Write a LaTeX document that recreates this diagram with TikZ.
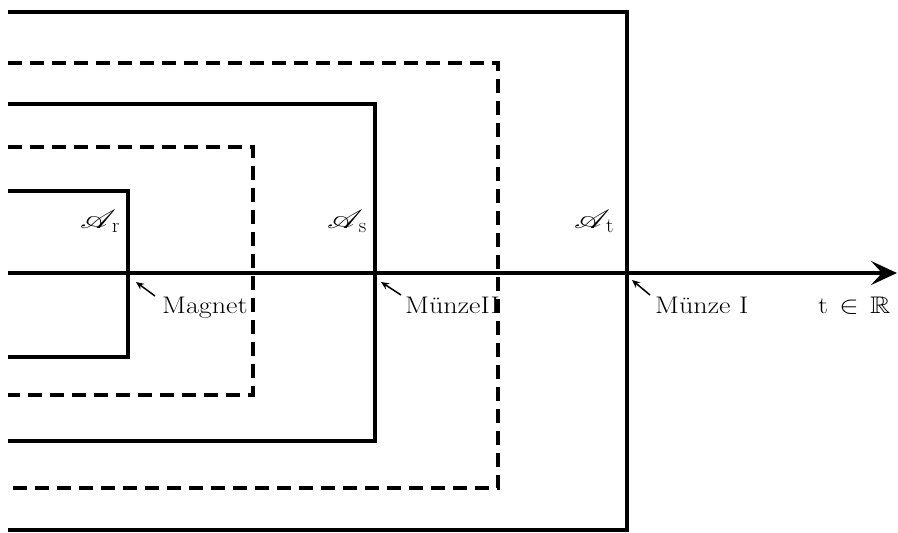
\documentclass[tikz,border=0pt]{standalone}
\usepackage{amssymb}
\usepackage{mathrsfs}
\usetikzlibrary{arrows.meta}
\newcommand{\wide}[1]{\scalebox{1.17}[1]{#1}}
\newcommand{\alga}[1]{\scalebox{1.4}[1.05]{$\mathscr{A}$}\kern-4pt$_{\mathrm{#1}}$}
\begin{document}
\begin{tikzpicture}[x=1pt,y=-1pt,
  frame/.style={line width=3.5pt, line join=miter},
  dframe/.style={frame, dash pattern=on 14pt off 8pt},
  lbl/.style={inner sep=0pt, anchor=base west, font=\fontsize{24}{28}\selectfont},
  alg/.style={inner sep=0pt, font=\fontsize{28}{32}\selectfont},
  pointer/.style={line width=1.5pt, -{Stealth[length=8pt,width=7pt]}}]
\useasboundingbox (0,0) rectangle (898,533);
% nested time regions, innermost first
\draw[frame]  (8,191) -- (128,191) -- (128,357) -- (8,357);
\draw[dframe] (8,147) -- (253,147) -- (253,395) -- (8,395);
\draw[frame]  (8,104) -- (375,104) -- (375,441) -- (8,441);
\draw[dframe] (8,63)  -- (498,63)  -- (498,488) -- (8,488);
\draw[frame]  (8,12)  -- (627,12)  -- (627,530) -- (8,530);
% time axis
\coordinate (axstart) at (8,273);
\coordinate (axend) at (897,273);
\draw[line width=4.5pt, -{Stealth[length=26pt,width=24pt,inset=11pt]}] (axstart) -- (axend);
\coordinate (pr) at (136,282);
\coordinate (ps) at (381,282);
\coordinate (pt) at (632,280);
% algebra labels
\node[alg] (ar) at (100,221) {\alga{r}};
\node[alg] (as) at (347,221) {\alga{s}};
\node[alg] (at) at (594,221) {\alga{t}};
% event labels
\node[lbl] (mag) at (162,313) {\wide{Magnet}};
\node[lbl] (m2) at (405,313) {\wide{M\"unzeII}};
\node[lbl] (m1) at (655,313) {\wide{M\"unze I}};
\node[lbl] (tr) at (818,313) {\wide{t\hspace{0.4em}$\in$\hspace{0.4em}$\mathbb{R}$}};
\draw[pointer] (155,296) -- (pr);
\draw[pointer] (401,295) -- (ps);
\draw[pointer] (650,295) -- (pt);
\end{tikzpicture}
\end{document}
